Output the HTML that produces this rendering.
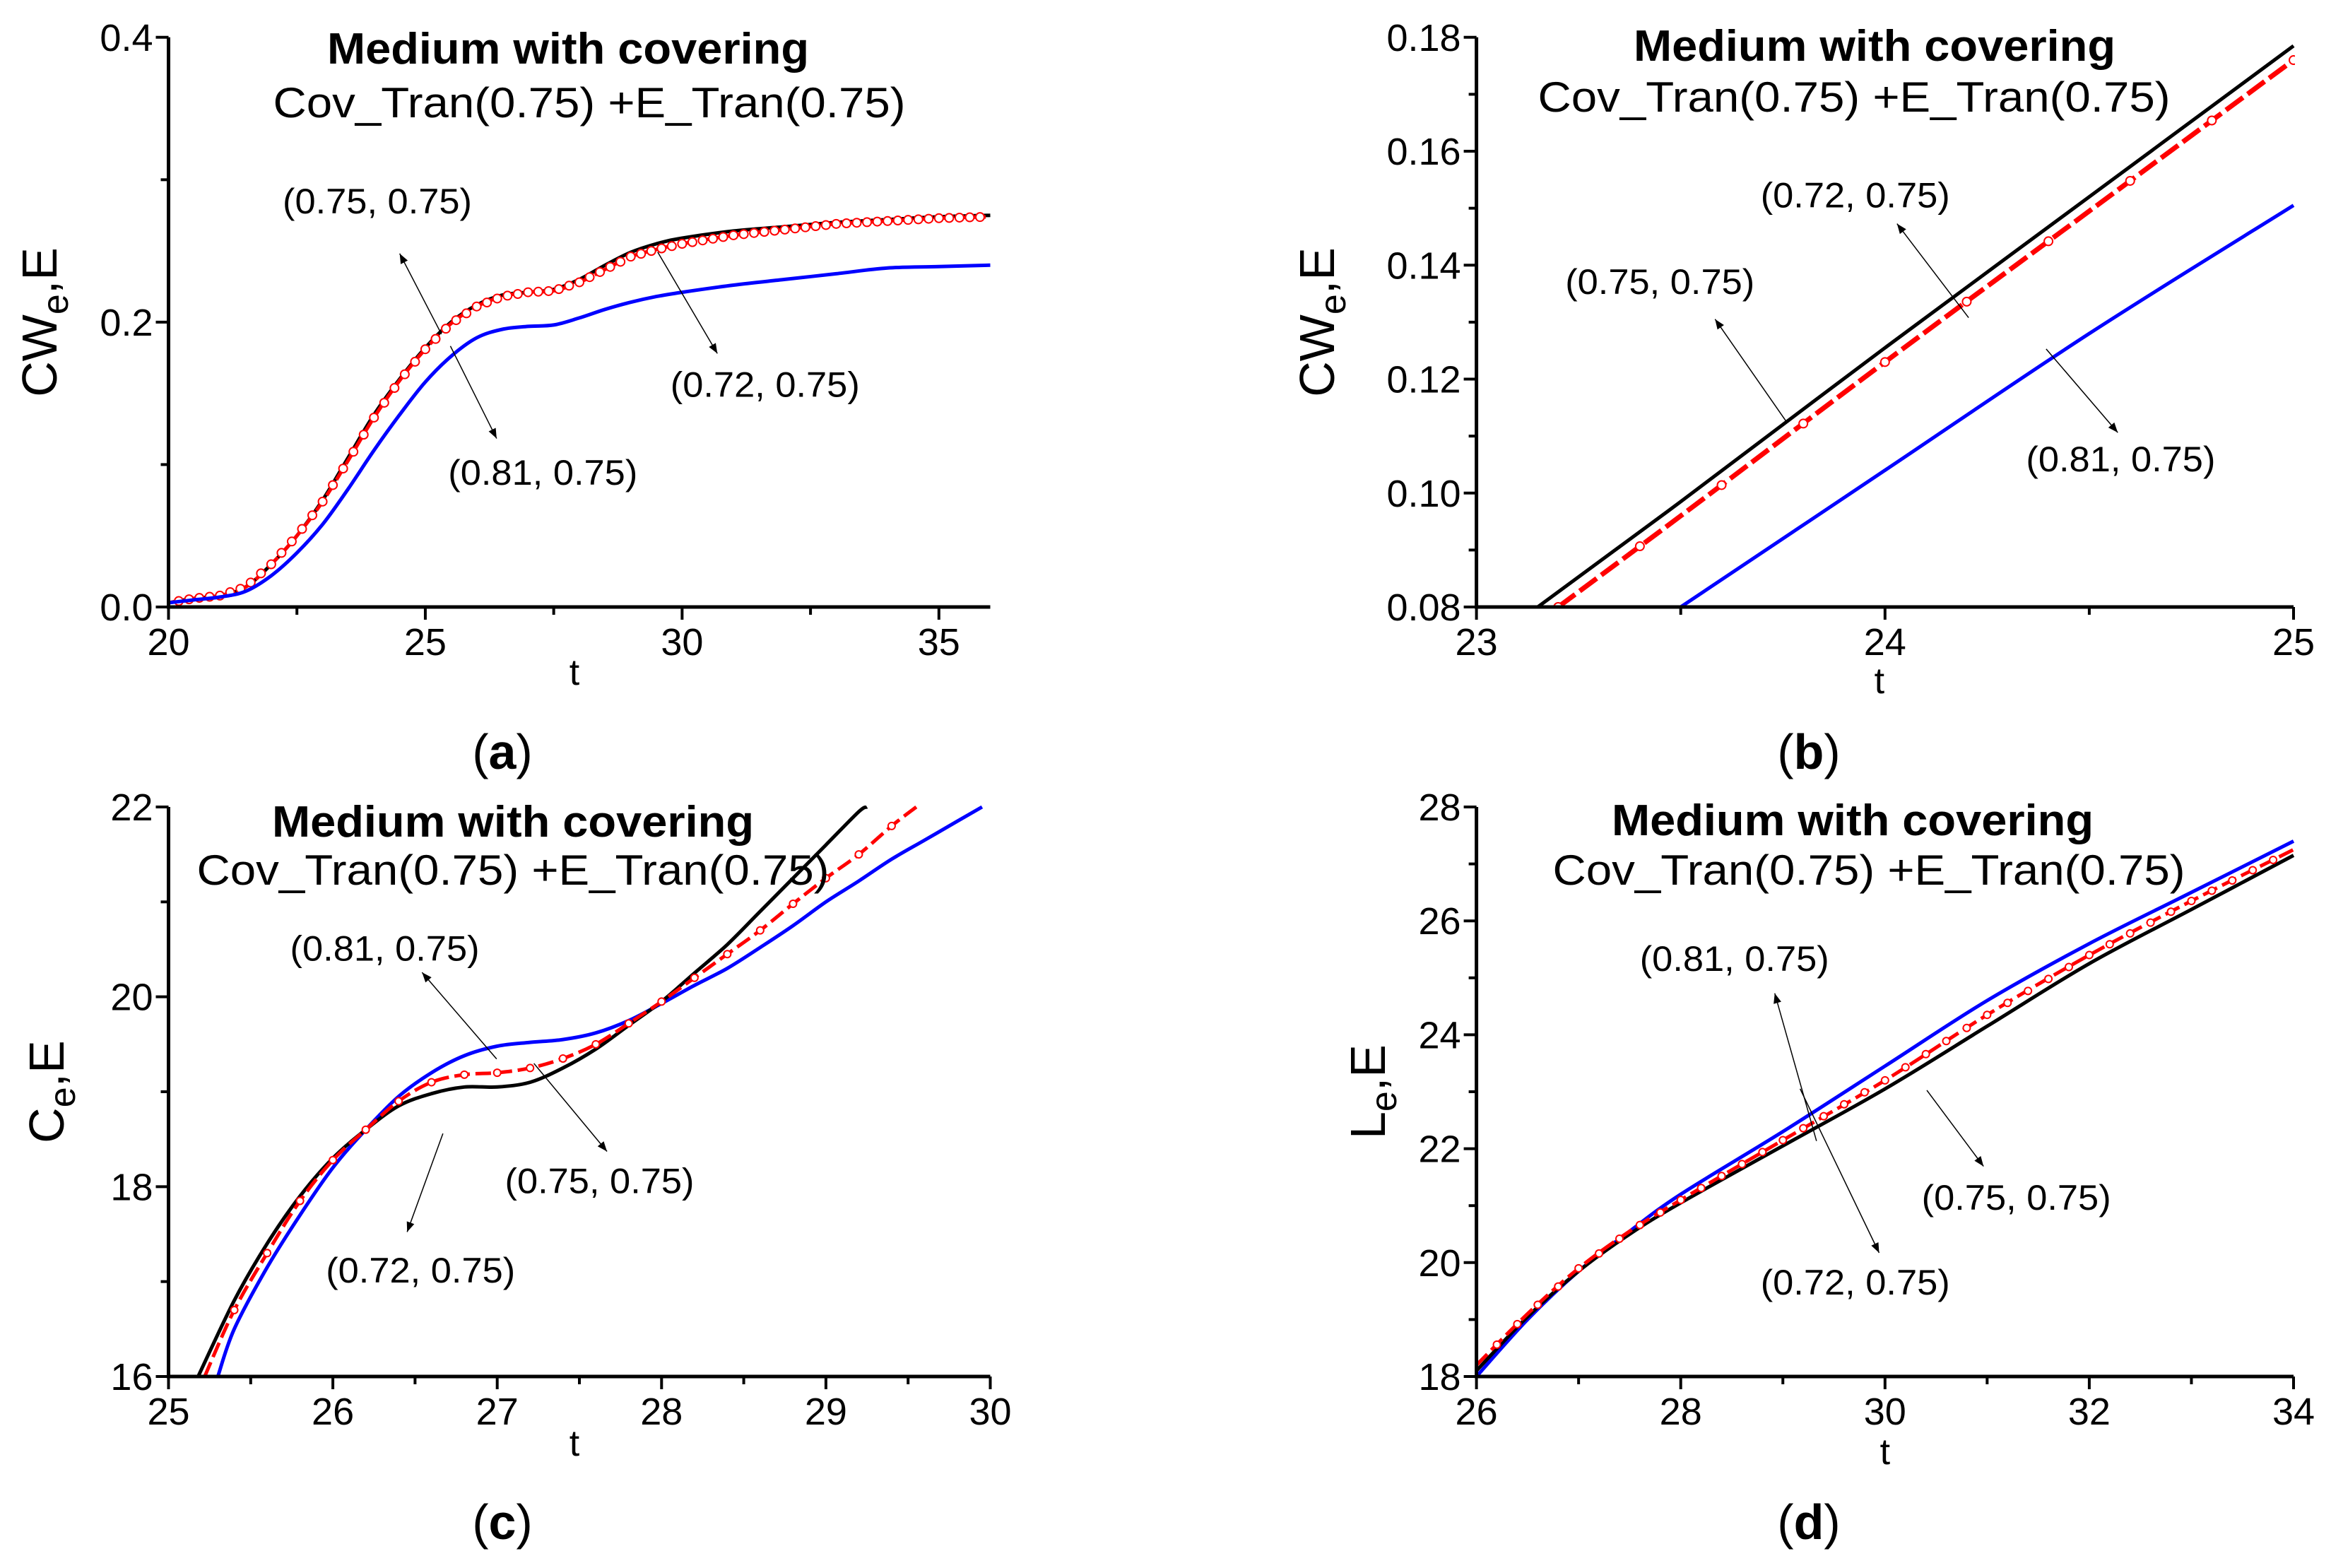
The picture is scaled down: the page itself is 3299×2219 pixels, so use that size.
<!DOCTYPE html>
<html><head><meta charset="utf-8">
<style>
html,body{margin:0;padding:0;background:#fff;}
svg{display:block;}
text{font-family:"Liberation Sans",Arial,sans-serif;}
</style></head>
<body>
<svg id="fig" width="3299" height="2219" viewBox="0 0 3299 2219" xmlns="http://www.w3.org/2000/svg">
<defs>
<marker id="ahb" viewBox="0 0 10 10" refX="10" refY="5" markerWidth="28" markerHeight="14" markerUnits="userSpaceOnUse" orient="auto">
<path d="M0,1 L10,5 L0,9 z" fill="#000"/>
</marker>
</defs>
</svg>
<script>
// ---------- Panel (a) data ----------
const aT = [20,20.5,21,21.5,22,22.5,23,23.5,24,24.5,25,25.5,26,26.5,27,27.5,28,28.5,29,29.5,30,31,32,33,34,35,36];
const aBlack = [0.003,0.006,0.008,0.014,0.03,0.05,0.075,0.105,0.135,0.16,0.182,0.2,0.212,0.219,0.221,0.223,0.23,0.24,0.249,0.255,0.259,0.264,0.267,0.27,0.272,0.274,0.275];
const aRed = [0.003,0.006,0.008,0.014,0.03,0.05,0.074,0.103,0.133,0.159,0.181,0.199,0.211,0.218,0.221,0.222,0.228,0.237,0.246,0.251,0.255,0.261,0.265,0.269,0.271,0.273,0.274];
const aBlue = [0.003,0.005,0.007,0.011,0.022,0.038,0.058,0.083,0.11,0.135,0.158,0.176,0.189,0.195,0.197,0.198,0.203,0.209,0.214,0.218,0.221,0.226,0.23,0.234,0.238,0.239,0.24];
// ---------- Panel (b) data ----------
const bBlackT = [23.15,23.5,24,24.5,25];
const bBlack = [0.08,0.0985,0.1255,0.152,0.1785];
const bRedT = [23.2,23.5,24,24.5,25];
const bRed = [0.08,0.096,0.123,0.1495,0.176];
const bBlueT = [23.5,24,24.5,25];
const bBlue = [0.08,0.104,0.128,0.1505];
// ---------- Panel (c) data ----------
const cBlackT = [25.18,25.4,25.6,25.8,26,26.2,26.4,26.6,26.8,27,27.2,27.4,27.6,27.8,28,28.2,28.4,28.6,28.8,29,29.2,29.25];
const cBlack = [16,16.8,17.4,17.9,18.3,18.6,18.85,18.98,19.05,19.05,19.1,19.25,19.45,19.7,19.95,20.25,20.55,20.9,21.25,21.6,21.95,22];
const cRedT = [25.22,25.4,25.6,25.8,26,26.2,26.4,26.6,26.8,27,27.2,27.4,27.6,27.8,28,28.2,28.4,28.6,28.8,29,29.2,29.4,29.55];
const cRed = [16,16.7,17.3,17.85,18.28,18.6,18.9,19.1,19.18,19.2,19.25,19.35,19.5,19.72,19.95,20.2,20.45,20.7,20.98,21.25,21.5,21.8,22];
const cBlueT = [25.3,25.4,25.6,25.8,26,26.2,26.4,26.6,26.8,27,27.2,27.4,27.6,27.8,28,28.2,28.4,28.6,28.8,29,29.2,29.4,29.6,29.8,29.95];
const cBlue = [16,16.5,17.15,17.7,18.2,18.6,18.95,19.2,19.38,19.48,19.52,19.55,19.62,19.75,19.93,20.12,20.3,20.52,20.75,21.0,21.22,21.45,21.65,21.85,22];
// ---------- Panel (d) data ----------
const dT = [26,26.5,27,27.5,28,29,30,31,32,33,34];
const dBlue = [18,19.0,19.85,20.55,21.2,22.3,23.45,24.6,25.6,26.5,27.4];
const dRed = [18.2,19.1,19.9,20.55,21.1,22.15,23.2,24.35,25.4,26.35,27.25];
const dBlack = [18.1,19.05,19.85,20.5,21.05,22.05,23.05,24.15,25.25,26.2,27.15];
// ---------- tick labels ----------
const aXTicks = [20,25,30,35];
const aYTicks = ["0.0","0.2","0.4"];
const bXTicks = [23,24,25];
const bYTicks = ["0.08","0.10","0.12","0.14","0.16","0.18"];
const cXTicks = [25,26,27,28,29,30];
const cYTicks = ["16","18","20","22"];
const dXTicks = [26,28,30,32,34];
const dYTicks = ["18","20","22","24","26","28"];

const NS = "http://www.w3.org/2000/svg";
const svg = document.getElementById('fig');
function mk(tag, attrs, parent){
  const e = document.createElementNS(NS, tag);
  for (const k in attrs) e.setAttribute(k, attrs[k]);
  (parent||svg).appendChild(e);
  return e;
}
function interp(ts, vs, t){
  if (t<=ts[0]) return vs[0];
  for (let i=1;i<ts.length;i++){ if (t<=ts[i]){ const f=(t-ts[i-1])/(ts[i]-ts[i-1]); return vs[i-1]+f*(vs[i]-vs[i-1]); } }
  return vs[vs.length-1];
}
function smoothPath(pts){
  let d = "M"+pts[0][0].toFixed(1)+","+pts[0][1].toFixed(1);
  for (let i=0;i<pts.length-1;i++){
    const p0=pts[i-1]||pts[i], p1=pts[i], p2=pts[i+1], p3=pts[i+2]||p2;
    const c1=[p1[0]+(p2[0]-p0[0])/6, p1[1]+(p2[1]-p0[1])/6];
    const c2=[p2[0]-(p3[0]-p1[0])/6, p2[1]-(p3[1]-p1[1])/6];
    d += " C"+c1[0].toFixed(1)+","+c1[1].toFixed(1)+" "+c2[0].toFixed(1)+","+c2[1].toFixed(1)+" "+p2[0].toFixed(1)+","+p2[1].toFixed(1);
  }
  return d;
}

function panel(cfg){
  const g = mk('g', {});
  
  
  const L=cfg.L,R=cfg.R,T=cfg.T,B=cfg.B;
  const sx = v => L + (v-cfg.x0)/(cfg.x1-cfg.x0)*(R-L);
  const sy = v => B - (v-cfg.y0)/(cfg.y1-cfg.y0)*(B-T);
  const clip = mk('clipPath', {id:'clip-'+cfg.name}, g);
  mk('rect', {x:L, y:T-2, width:R-L+2, height:B-T+2}, clip);
  const plot = mk('g', {'clip-path':'url(#clip-'+cfg.name+')'}, g);
  cfg.series.forEach(s=>{
    const pts = s.t.map((t,i)=>[sx(t), sy(s.v[i])]);
    const p = mk('path', {d:smoothPath(pts), fill:'none', stroke:s.color, 'stroke-width':s.w, 'stroke-dasharray':s.dash||'none', 'stroke-linejoin':'round'}, plot);
    
    
    if (s.markStep){
      for (let t=s.markStart; t<=cfg.x1+1e-9; t+=s.markStep){
        if (t < s.t[0] || t > s.t[s.t.length-1]) continue;
        const c = mk('circle', {cx:sx(t), cy:sy(interp(s.t,s.v,t)), r:s.markR, fill:'#fff', stroke:'#f00', 'stroke-width':2}, plot);
        
        
      }
    }
  });
  const ax = mk('path', {d:`M${L},${T} L${L},${B} L${R},${B}`, fill:'none', stroke:'#000', 'stroke-width':5}, g);
  
  
  for (let v=cfg.x0; v<=cfg.x1+1e-9; v+=cfg.xMinor){
    const major = Math.abs((v-cfg.x0)/cfg.xMajor - Math.round((v-cfg.x0)/cfg.xMajor))<1e-6;
    mk('line', {x1:sx(v), x2:sx(v), y1:B, y2:B+(major?18:11), stroke:'#000', 'stroke-width':4}, g);
  }
  cfg.xTicks.forEach(v=>{
    const t = mk('text', {x:sx(v), y:B+68, 'text-anchor':'middle', 'font-size':54}, g);
    t.textContent = v;
    
    
  });
  for (let k=0; ; k++){
    const v = cfg.y0 + k*cfg.yMinor; if (v > cfg.y1+1e-9) break;
    const major = k % Math.round(cfg.yMajor/cfg.yMinor) === 0;
    mk('line', {x1:L, x2:L-(major?18:11), y1:sy(v), y2:sy(v), stroke:'#000', 'stroke-width':4}, g);
  }
  cfg.yTicks.forEach((lab,i)=>{
    const v = cfg.y0 + i*cfg.yMajor;
    const t = mk('text', {x:L-22, y:sy(v)+19, 'text-anchor':'end', 'font-size':54}, g);
    t.textContent = lab;
    
    
  });
  const xt = mk('text', {x:(L+R)/2+cfg.tdx, y:B+cfg.tdy, 'text-anchor':'middle', 'font-size':52}, g);
  xt.textContent = 't';
  
  
  const yt = mk('text', {x:0, y:0, 'text-anchor':'middle', 'font-size':70, transform:`translate(${cfg.ytx},${(T+B)/2}) rotate(-90)`}, g);
  yt.innerHTML = cfg.ytitle;
  
  
  const t1 = mk('text', {x:cfg.t1x, y:cfg.t1y, 'text-anchor':'middle', 'font-size':62, 'font-weight':'bold', textLength:682, lengthAdjust:'spacingAndGlyphs'}, g);
  t1.textContent = 'Medium with covering';
  
  
  const t2 = mk('text', {x:cfg.t2x, y:cfg.t2y, 'text-anchor':'middle', 'font-size':60, textLength:895, lengthAdjust:'spacingAndGlyphs'}, g);
  t2.textContent = 'Cov_Tran(0.75) +E_Tran(0.75)';
  
  
  cfg.notes.forEach(n=>{
    const l = mk('line', {x1:n.from[0], y1:n.from[1], x2:n.to[0], y2:n.to[1], stroke:'#000', 'stroke-width':1.5, 'marker-end':'url(#ahb)'}, g);
    
    
    const t = mk('text', {x:n.pos[0], y:n.pos[1], 'text-anchor':'middle', 'font-size':50, textLength:268, lengthAdjust:'spacingAndGlyphs'}, g);
    t.textContent = n.text;
    
    
  });
  const pl = mk('text', {x:cfg.lx, y:cfg.ly, 'text-anchor':'middle', 'font-size':70, 'font-family':'"Liberation Serif",serif'}, g);
  pl.innerHTML = '(<tspan font-weight="bold">'+cfg.letter+'</tspan>)';
  
  
}

const S = 2.1107;
const P = (x,y)=>[x*S, y*S];
const ytitleCW = 'CW<tspan font-size="52" dy="16">e</tspan><tspan dy="-16">,E</tspan>';

panel({name:'panel-a', L:238.5, R:1401.5, T:52.8, B:859, x0:20, x1:36, y0:0, y1:0.4, xMajor:5, xMinor:2.5, yMajor:0.2, yMinor:0.1,
  xTicks:aXTicks, yTicks:aYTicks, ytx:80, tdx:-7, tdy:110, ytitle:ytitleCW,
  t1x:804, t1y:90, t2x:834, t2y:166, letter:'a', lx:711, ly:1088,
  series:[
    {name:'series-072-black', t:aT, v:aBlack, color:'#000', w:5},
    {name:'series-075-red', t:aT, v:aRed, color:'#f00', w:5, dash:'18 8', markStep:0.2, markStart:20.2, markR:6},
    {name:'series-081-blue', t:aT, v:aBlue, color:'#00f', w:5}
  ],
  notes:[
    {text:'(0.75, 0.75)', pos:P(253,143), from:P(296,224), to:P(268,170)},
    {text:'(0.81, 0.75)', pos:P(364,325), from:P(302,232), to:P(333,294)},
    {text:'(0.72, 0.75)', pos:P(513,266), from:P(441,169), to:P(481,237)}
  ]});

panel({name:'panel-b', L:2089.6, R:3246, T:52.8, B:859, x0:23, x1:25, y0:0.08, y1:0.18, xMajor:1, xMinor:0.5, yMajor:0.02, yMinor:0.01,
  xTicks:bXTicks, yTicks:bYTicks, ytx:1888, tdx:-8, tdy:122, ytitle:ytitleCW,
  t1x:2653, t1y:86, t2x:2624, t2y:158, letter:'b', lx:2560, ly:1088,
  series:[
    {name:'series-072-black', t:bBlackT, v:bBlack, color:'#000', w:5},
    {name:'series-081-blue', t:bBlueT, v:bBlue, color:'#00f', w:5},
    {name:'series-075-red', t:bRedT, v:bRed, color:'#f00', w:7, dash:'30 8', markStep:0.2, markStart:23.2, markR:6}
  ],
  notes:[
    {text:'(0.72, 0.75)', pos:P(1244,139), from:P(1320,213), to:P(1272,150)},
    {text:'(0.75, 0.75)', pos:P(1113,197), from:P(1198,283), to:P(1150,214)},
    {text:'(0.81, 0.75)', pos:P(1422,316), from:P(1372,234), to:P(1420,290)}
  ]});

panel({name:'panel-c', L:238.5, R:1401.5, T:1142, B:1948, x0:25, x1:30, y0:16, y1:22, xMajor:1, xMinor:0.5, yMajor:2, yMinor:1,
  xTicks:cXTicks, yTicks:cYTicks, ytx:90, tdx:-7, tdy:112, ytitle:'C<tspan font-size="52" dy="16">e</tspan><tspan dy="-16">,E</tspan>',
  t1x:726, t1y:1184, t2x:726, t2y:1252, letter:'c', lx:711, ly:2178,
  series:[
    {name:'series-081-blue', t:cBlueT, v:cBlue, color:'#00f', w:5},
    {name:'series-072-black', t:cBlackT, v:cBlack, color:'#000', w:5},
    {name:'series-075-red', t:cRedT, v:cRed, color:'#f00', w:5, dash:'22 8', markStep:0.2, markStart:25.2, markR:5}
  ],
  notes:[
    {text:'(0.81, 0.75)', pos:P(258,644), from:P(333,710), to:P(283,652)},
    {text:'(0.75, 0.75)', pos:P(402,800), from:P(358,713), to:P(407,772)},
    {text:'(0.72, 0.75)', pos:P(282,860), from:P(297,760), to:P(273,826)}
  ]});

panel({name:'panel-d', L:2089.6, R:3246, T:1142, B:1948, x0:26, x1:34, y0:18, y1:28, xMajor:2, xMinor:1, yMajor:2, yMinor:1,
  xTicks:dXTicks, yTicks:dYTicks, ytx:1960, tdx:0, tdy:124, ytitle:'L<tspan font-size="52" dy="16">e</tspan><tspan dy="-16">,E</tspan>',
  t1x:2622, t1y:1182, t2x:2645, t2y:1252, letter:'d', lx:2560, ly:2178,
  series:[
    {name:'series-081-blue', t:dT, v:dBlue, color:'#00f', w:5},
    {name:'series-072-black', t:dT, v:dBlack, color:'#000', w:5},
    {name:'series-075-red', t:dT, v:dRed, color:'#f00', w:5, dash:'22 8', markStep:0.2, markStart:26.2, markR:5}
  ],
  notes:[
    {text:'(0.81, 0.75)', pos:P(1163,651), from:P(1218,765), to:P(1190,666)},
    {text:'(0.72, 0.75)', pos:P(1244,868), from:P(1207,730), to:P(1260,840)},
    {text:'(0.75, 0.75)', pos:P(1352,811), from:P(1292,731), to:P(1330,782)}
  ]});
</script>
</body></html>
